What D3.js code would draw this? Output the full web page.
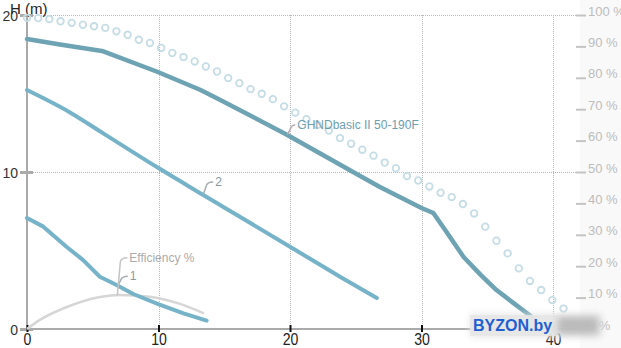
<!DOCTYPE html>
<html>
<head>
<meta charset="utf-8">
<script src="https://cdn.jsdelivr.net/npm/d3@7/dist/d3.min.js"></script>
<style>
  html, body { margin: 0; padding: 0; background: #fff; }
  svg { display: block; font-family: "Liberation Sans", Arial, sans-serif; }
</style>
</head>
<body>
<svg id="chart" width="621" height="348"></svg>
<script>
// Pump curve GHNDbasic II 50-190F: head H (m) against flow Q (m³/h)
const xTicks = [0, 10, 20, 30, 40];
const yTicks = [0, 10, 20];
const pctTicks = [0, 10, 20, 30, 40, 50, 60, 70, 80, 90, 100];

// Max speed curve
const mainFlow = [0, 2.5, 5.7, 9.95, 13.2, 14.7, 19.8, 25.0, 26.8, 30.0, 30.9, 31.8, 33.2, 34.5, 35.7, 37.0, 38.2, 38.6];
const mainHead = [18.47, 18.12, 17.71, 16.37, 15.22, 14.59, 12.36, 9.9, 9.06, 7.71, 7.39, 6.3, 4.59, 3.45, 2.48, 1.65, 0.89, 0.6];

// Speed 2
const flow2 = [0, 3.3, 5.8, 10.0, 13.4, 14.9, 20.0, 23.8, 26.6];
const head2 = [15.22, 13.78, 12.46, 10.25, 8.54, 7.79, 5.24, 3.33, 1.97];

// Speed 1
const flow1 = [0, 1.24, 3.0, 4.27, 5.54, 6.81, 8.08, 9.98, 11.9, 13.66];
const head1 = [7.07, 6.52, 5.24, 4.39, 3.33, 2.8, 2.23, 1.59, 1.0, 0.53];

// Efficiency, %
const effFlow = [0, 0.98, 3.03, 5.54, 7.06, 9.35, 11.63, 13.45];
const effPct = [0, 2.9, 7.0, 10.2, 10.8, 10.3, 8.0, 5.0];

// Dotted reference curve, % of right scale
const dotFlow = [0, 0.85, 1.7, 2.55, 3.4, 4.25, 5.1, 5.95, 6.8, 7.65, 8.5, 9.35, 10.2, 11.05, 11.9, 12.75,
  13.6, 14.45, 15.3, 16.15, 17.0, 17.85, 18.7, 19.55, 20.4, 21.25, 22.1, 22.95, 23.8, 24.65, 25.5, 26.35,
  27.2, 28.05, 28.9, 29.75, 30.6, 31.45, 32.3, 33.15, 34.0, 34.85, 35.7, 36.55, 37.4, 38.25, 39.1, 39.95, 40.8];
const dotPct = [99.1, 99.0, 98.7, 98.0, 97.5, 96.9, 96.4, 95.9, 94.8, 93.7, 92.1, 91.1, 89.5, 87.9, 86.6, 85.2,
  83.6, 82.0, 79.9, 78.3, 76.4, 74.9, 73.2, 70.9, 68.9, 66.8, 65.0, 63.2, 60.8, 59.0, 57.1, 55.2,
  53.0, 51.2, 48.7, 47.3, 45.4, 43.4, 42.0, 39.8, 36.8, 32.6, 28.1, 24.1, 19.3, 15.3, 12.4, 9.2, 6.5];

// Curve labels
const labelText = ["GHNDbasic II 50-190F", "2", "1", "Efficiency %"];

const svg = d3.select("#chart");
const W = 621, H = 348;

const x = d3.scaleLinear().domain([0, 40]).range([27, 553]);
const y = d3.scaleLinear().domain([0, 20]).range([329, 15]);
const yR = d3.scaleLinear().domain([0, 100]).range([329, 15]);
const plotRight = 576;

// light panel behind the right scale
svg.append("rect").attr("x", 580).attr("y", 0).attr("width", W - 580).attr("height", H).attr("fill", "#f9f9f9");

// grid
const grid = svg.append("g").attr("stroke", "#b8b8b8").attr("stroke-width", 1).attr("stroke-dasharray", "1,1");
grid.selectAll("line.v").data(xTicks.slice(1)).join("line")
  .attr("x1", d => Math.round(x(d)) + 0.5).attr("x2", d => Math.round(x(d)) + 0.5)
  .attr("y1", y(20)).attr("y2", y(0));
grid.selectAll("line.h").data(yTicks.slice(1)).join("line")
  .attr("x1", x(0)).attr("x2", plotRight)
  .attr("y1", d => Math.round(y(d)) + 0.5).attr("y2", d => Math.round(y(d)) + 0.5);

// axis lines
svg.append("line").attr("x1", x(0)).attr("x2", plotRight).attr("y1", y(0)).attr("y2", y(0))
  .attr("stroke", "#aaa").attr("stroke-width", 2);
svg.append("line").attr("x1", x(0)).attr("x2", x(0)).attr("y1", y(20)).attr("y2", y(0))
  .attr("stroke", "#aaa").attr("stroke-width", 2);

// left axis
const gL = svg.append("g").attr("transform", `translate(${x(0)},0)`)
  .call(d3.axisLeft(y).tickValues(yTicks).tickSize(7).tickPadding(3).tickFormat(d3.format("d")));
gL.select(".domain").remove();
gL.selectAll(".tick line").attr("x1", 6).attr("x2", -7).attr("stroke", "#aaa").attr("stroke-width", 3);
gL.selectAll(".tick text").attr("x", -9).attr("dy", "0.36em").attr("font-size", 14).attr("fill", "#333")
  .attr("font-family", "Liberation Sans, Arial, sans-serif");

// bottom axis
const gB = svg.append("g").attr("transform", `translate(0,${y(0)})`)
  .call(d3.axisBottom(x).tickValues(xTicks).tickSize(3).tickFormat(d3.format("d")));
gB.select(".domain").remove();
gB.selectAll(".tick line").attr("y1", -4).attr("y2", 3).attr("stroke", "#111").attr("stroke-width", 2);
gB.selectAll(".tick text").attr("y", 0).attr("dy", 0)
  .attr("transform", "translate(0,16) scale(0.88,1)")
  .attr("font-size", 16).attr("fill", "#222")
  .attr("font-family", "Liberation Sans, Arial, sans-serif");

// right axis (percent)
const gR = svg.append("g").attr("transform", `translate(${plotRight},0)`)
  .call(d3.axisRight(yR).tickValues(pctTicks).tickSize(10).tickPadding(2).tickFormat(d => d + " %"));
gR.select(".domain").remove();
gR.selectAll(".tick line").attr("stroke", "#c4c4c4").attr("stroke-width", 2);
gR.selectAll(".tick text").attr("dy", 0).attr("font-size", 13).attr("fill", "#bdbdbd")
  .attr("font-family", "Liberation Sans, Arial, sans-serif");

// axis title
svg.append("text").attr("x", 10).attr("y", 14).attr("font-size", 15).attr("fill", "#222").text("H (m)");

// dotted reference curve
svg.append("g").selectAll("circle").data(dotFlow).join("circle")
  .attr("cx", d => x(d)).attr("cy", (d, i) => yR(dotPct[i]))
  .attr("r", 3.3).attr("fill", "none").attr("stroke", "#c6dde6").attr("stroke-width", 1.8);

// efficiency curve
const effLine = d3.line().x(d => x(d[0])).y(d => yR(d[1])).curve(d3.curveMonotoneX);
svg.append("path").datum(effFlow.map((f, i) => [f, effPct[i]]))
  .attr("d", effLine).attr("fill", "none").attr("stroke", "#d6d6d6").attr("stroke-width", 2.5);

// head curves: speeds 1 and max keep their knees, speed 2 is smooth
const linearHead = d3.line().x(d => x(d[0])).y(d => y(d[1]));
const smoothHead = d3.line().x(d => x(d[0])).y(d => y(d[1])).curve(d3.curveMonotoneX);
const curves = [
  { flow: flow1, head: head1, color: "#76b3c8", width: 4, gen: linearHead },
  { flow: flow2, head: head2, color: "#76b3c8", width: 4, gen: smoothHead },
  { flow: mainFlow, head: mainHead, color: "#6ea3b3", width: 4.5, gen: linearHead }
];
curves.forEach(c => {
  svg.append("path").datum(c.flow.map((f, i) => [f, c.head[i]]))
    .attr("d", c.gen).attr("fill", "none").attr("stroke", c.color)
    .attr("stroke-width", c.width).attr("stroke-linejoin", "round").attr("stroke-linecap", "round");
});

// callout labels
function interp(xs, ys, v) { return d3.scaleLinear().domain(xs).range(ys)(v); }
const callouts = [
  { text: labelText[0], ax: x(19.8), ay: y(interp(mainFlow, mainHead, 19.8)), dx: 10, dy: -6, color: "#6e9db0", line: "#b8aab0" },
  { text: labelText[1], ax: x(13.4), ay: y(interp(flow2, head2, 13.4)), dx: 12, dy: -9, color: "#7e98a4", line: "#a4acb0" },
  { text: labelText[2], ax: x(6.9), ay: y(interp(flow1, head1, 6.9)), dx: 12, dy: -5.5, color: "#8a9ba4", line: "#a4acb0" },
  { text: labelText[3], ax: x(6.87), ay: yR(interp(effFlow, effPct, 6.87)), dx: 12, dy: -33.5, color: "#ababab", line: "#c4c4c4" }
];
callouts.forEach(c => {
  const tx = c.ax + c.dx, tb = c.ay + c.dy, tcy = tb - 4;
  svg.append("path")
    .attr("d", `M${c.ax},${c.ay} L${c.ax + 3},${tcy + 4} Q${c.ax + 4},${tcy} ${tx - 2},${tcy}`)
    .attr("fill", "none").attr("stroke", c.line).attr("stroke-width", 1.5);
  svg.append("text").attr("x", tx).attr("y", tb).attr("font-size", 12).attr("fill", c.color).text(c.text);
});

// site badge
const defs = svg.append("defs");
defs.append("filter").attr("id", "soft").attr("x", "-50%").attr("y", "-50%").attr("width", "200%").attr("height", "200%")
  .append("feGaussianBlur").attr("stdDeviation", 3.5);
const badge = svg.append("g");
badge.append("rect").attr("x", 470).attr("y", 314).attr("width", 132).attr("height", 23)
  .attr("fill", "#e2e2e2").attr("opacity", 0.88).attr("filter", "url(#soft)");
badge.append("rect").attr("x", 470).attr("y", 315).attr("width", 88).attr("height", 21)
  .attr("fill", "#e6e6e6").attr("opacity", 0.85);
badge.append("rect").attr("x", 558).attr("y", 317).attr("width", 40).attr("height", 17)
  .attr("fill", "#b4b4b4").attr("opacity", 0.85).attr("filter", "url(#soft)");
badge.append("text").attr("x", 473).attr("y", 331).attr("font-size", 16).attr("font-weight", "bold")
  .attr("fill", "#1f5fd2").text("BYZON.by");
</script>
</body>
</html>
